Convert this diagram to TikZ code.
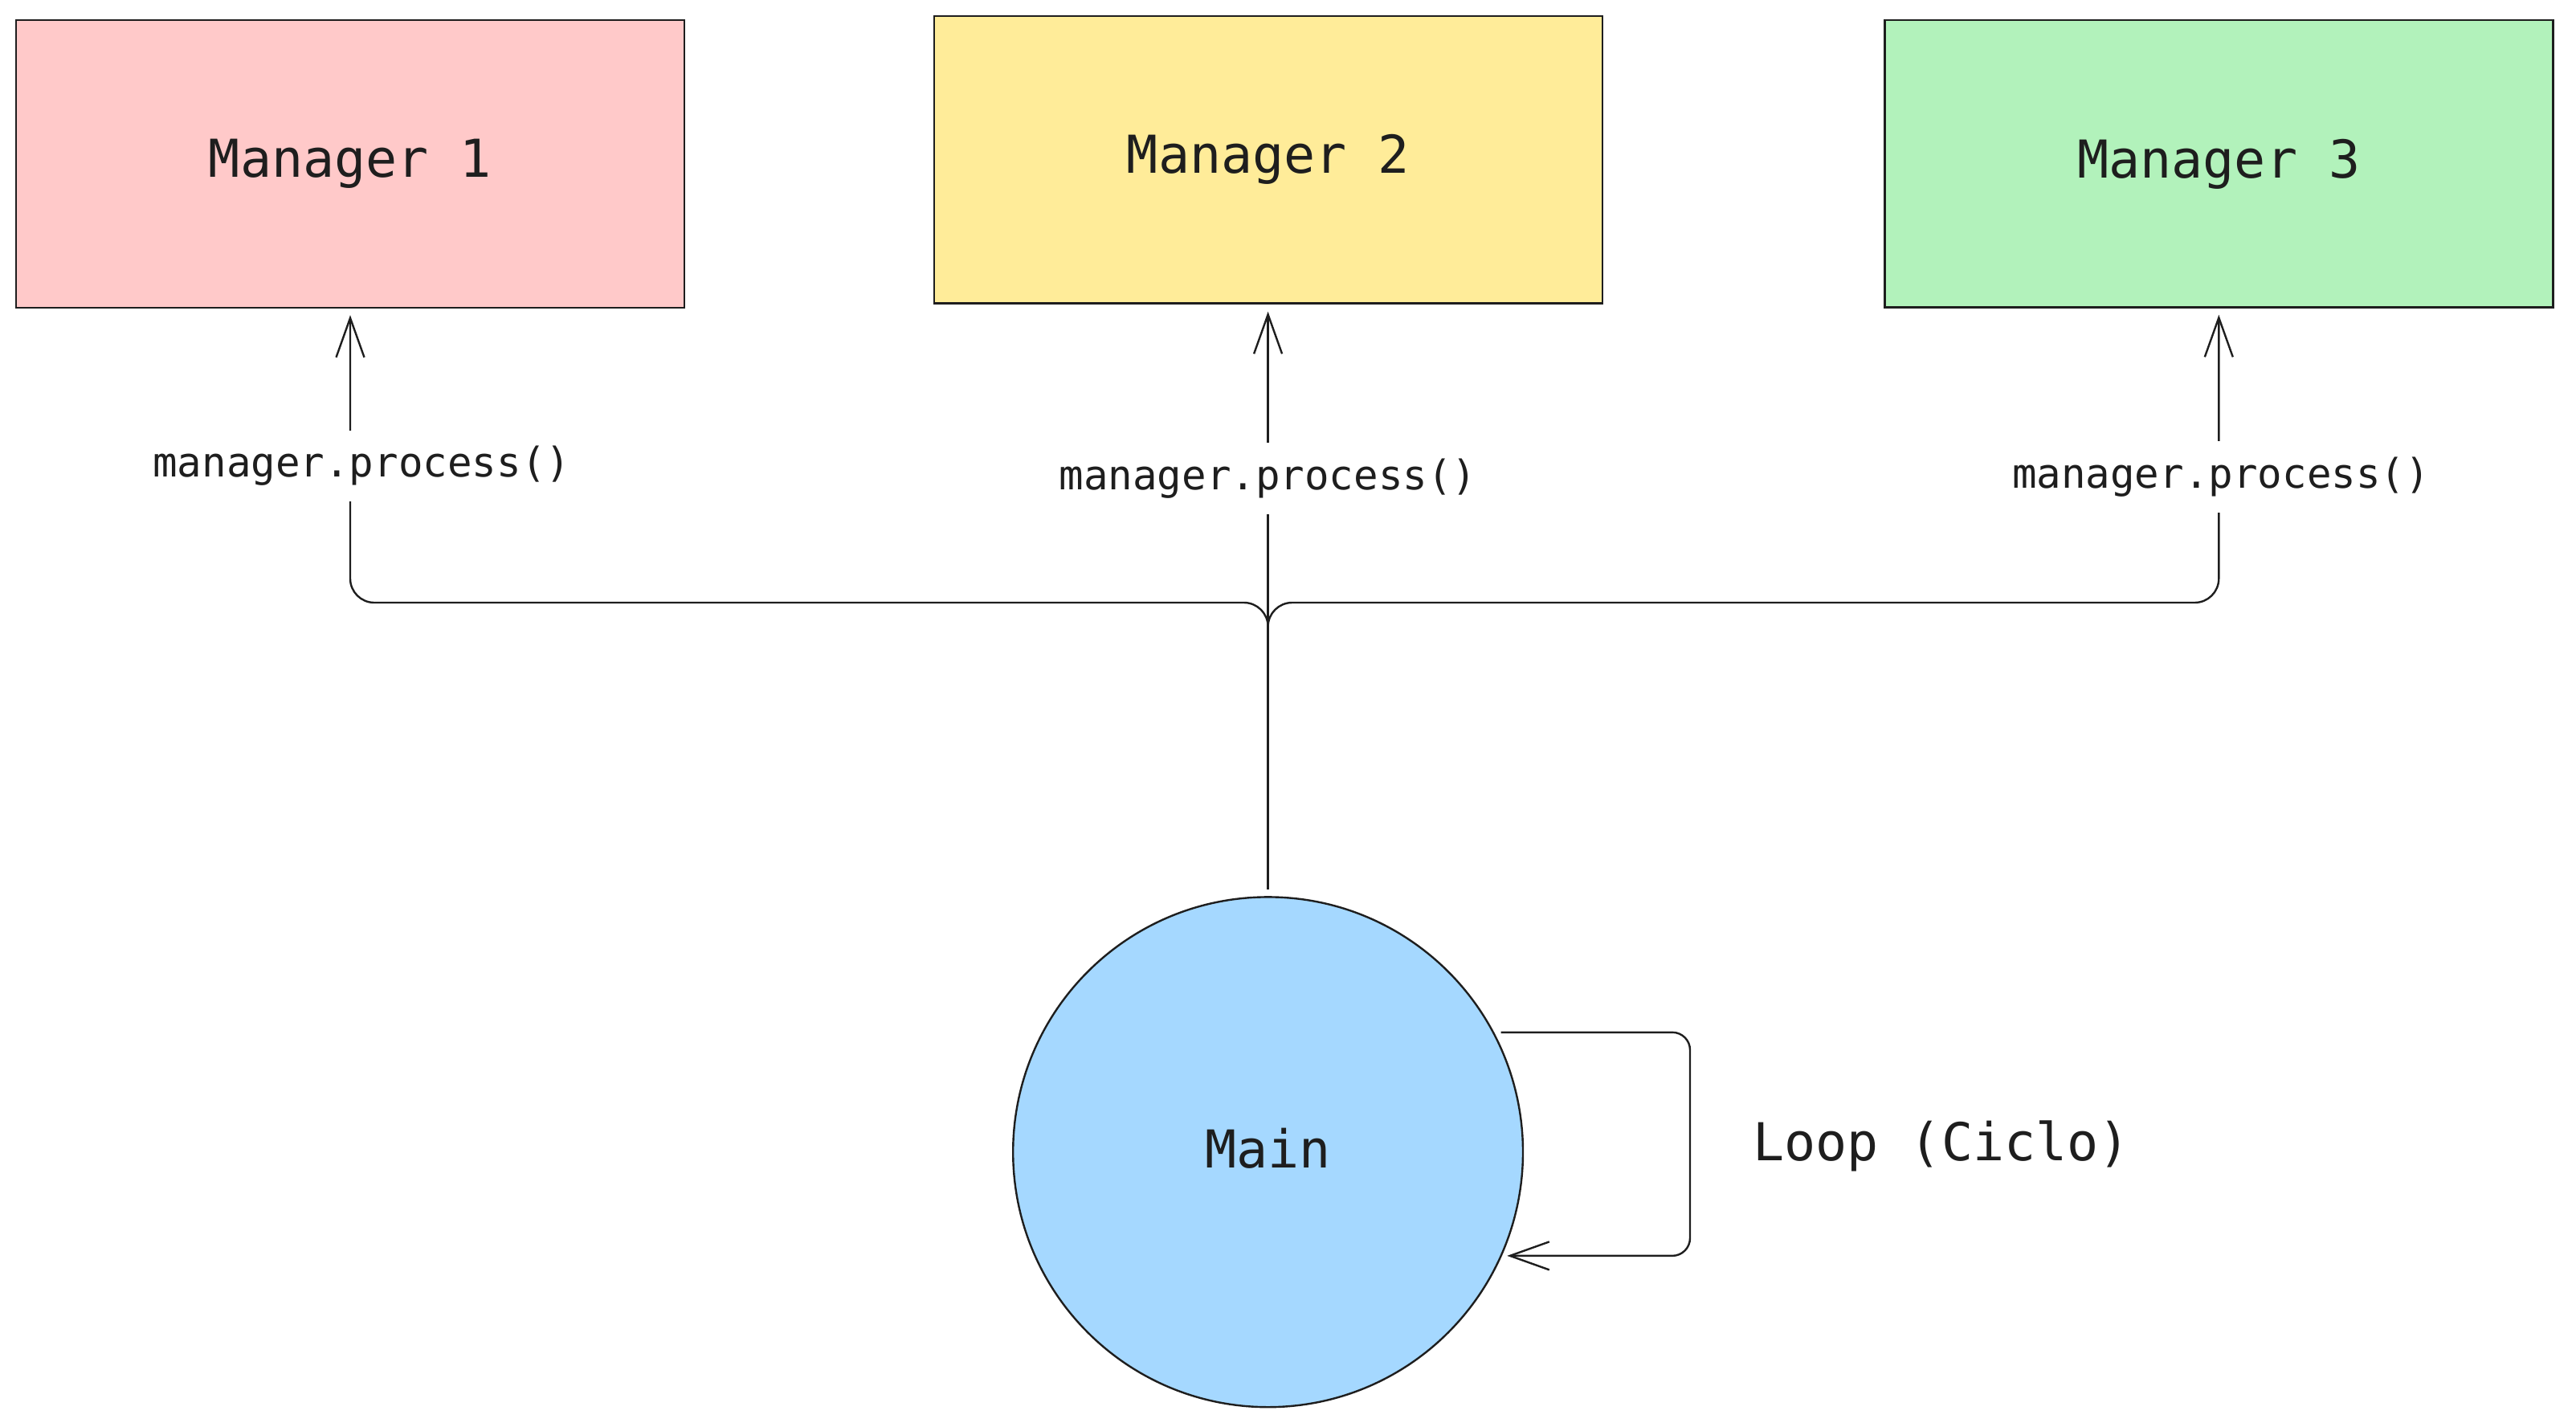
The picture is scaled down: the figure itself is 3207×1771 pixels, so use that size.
\documentclass[tikz,border=0pt]{standalone}
\usepackage{fontspec}
\newfontfamily\handfont{DejaVu Sans Mono}
\usetikzlibrary{arrows.meta,calc}
\definecolor{ink}{HTML}{1E1E1E}
\definecolor{redfill}{HTML}{FFC9C9}
\definecolor{yellowfill}{HTML}{FFEC99}
\definecolor{greenfill}{HTML}{B2F2BB}
\definecolor{bluefill}{HTML}{A5D8FF}
\tikzset{
  x=0.5pt, y=0.5pt,
  mgrbox/.style={draw=ink, line width=1.2pt, minimum width=416pt, minimum height=178.75pt,
    inner sep=0pt, outer sep=0pt, text=ink, font=\handfont\fontsize{32.5}{39}\selectfont},
  mainnode/.style={circle, draw=ink, line width=1.2pt, fill=bluefill, minimum size=317.4pt,
    inner sep=0pt, outer sep=0pt, text=ink, text depth=5.5pt,
    font=\handfont\fontsize{32.5}{39}\selectfont},
  calllabel/.style={fill=white, text=ink, inner xsep=4pt, inner ysep=9.8pt, anchor=base,
    font=\handfont\fontsize{25.4}{30}\selectfont},
  bigtext/.style={text=ink, anchor=base, inner sep=0pt, font=\handfont\fontsize{32.5}{39}\selectfont},
  conn/.style={draw=ink, line width=1.2pt},
  arr/.style={conn, -{Straight Barb[length=24.5pt, width=17.5pt, line width=1.2pt]}},
}
\begin{document}
\begin{tikzpicture}
\useasboundingbox (0,0) rectangle (3207,-1771);

% boxes
\node[mgrbox, fill=redfill]    (m1) at (436,-204)    {Manager 1};
\node[mgrbox, fill=yellowfill] (m2) at (1579,-198.8) {Manager 2};
\node[mgrbox, fill=greenfill]  (m3) at (2762.3,-203.9) {Manager 3};

% main circle
\node[mainnode] (main) at (1578.6,-1433.8) {Main};

% junction
\coordinate (hub) at (1578.6,-750);
\coordinate (hubstart) at (1578.6,-810);

% connectors
\draw[arr] ($(main.north)+(0,9.3)$) -- ($(main.north |- m2.south)+(0,-10.2)$);
\draw[arr, rounded corners=15pt] (hubstart) -- (hub) -- (m1.south |- hub) -- ($(m1.south)+(0,-9.4)$);
\draw[arr, rounded corners=15pt] (hubstart) -- (hub) -- (m3.south |- hub) -- ($(m3.south)+(0,-9.1)$);

% loop
\coordinate (loopside) at (2104,-1424);
\draw[arr, rounded corners=11pt] ($(main.28.08)+(9.8,0)$) -| (loopside) |- ($(main.-24.36)+(7.7,0)$);

% labels
\node[calllabel] (l1) at (450.3,-593.7)  {manager.process()};
\node[calllabel] (l2) at (1578.5,-609.4) {manager.process()};
\node[calllabel] (l3) at (2765,-607)     {manager.process()};
\node[bigtext]   (loopt) at (2417,-1444.5) {Loop (Ciclo)};
\end{tikzpicture}
\end{document}
